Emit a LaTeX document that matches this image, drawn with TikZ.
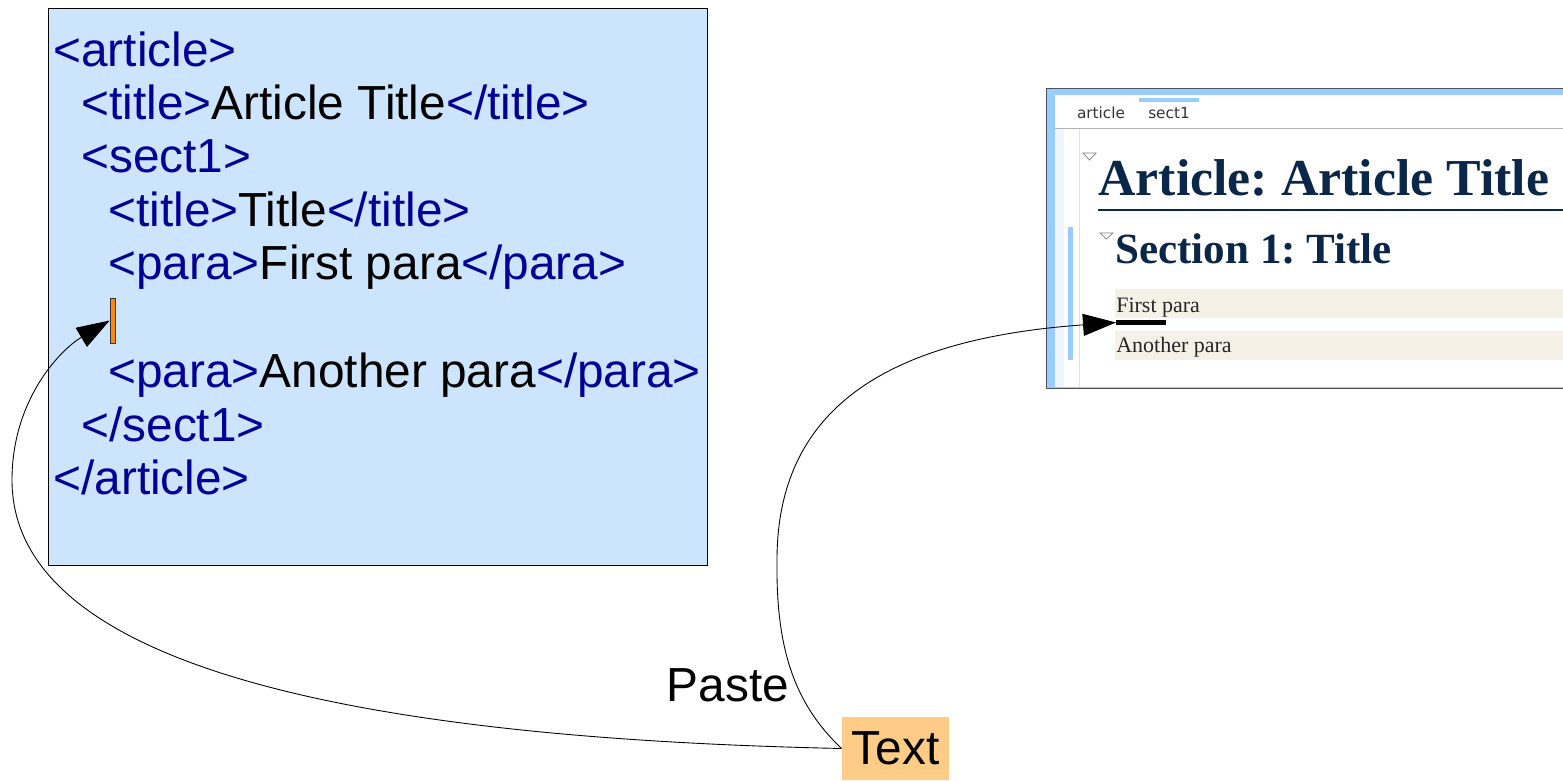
\documentclass[tikz,border=0pt]{standalone}
\usepackage{fontspec}
\setmainfont{Liberation Sans}
\newfontfamily\shotserif{Liberation Serif}
\newfontfamily\shotsans{DejaVu Sans}
\usepackage{tikz}
\usetikzlibrary{arrows,arrows.meta,shapes}
\frenchspacing
\definecolor{tagblue}{RGB}{0,0,150}
\definecolor{boxblue}{RGB}{204,228,252}
\definecolor{caretorange}{RGB}{255,140,0}
\definecolor{snipfill}{RGB}{255,204,136}
\definecolor{framegray}{RGB}{80,80,90}
\definecolor{frameblue}{RGB}{153,204,255}
\definecolor{paleblue}{RGB}{238,245,255}
\definecolor{headnavy}{RGB}{10,38,72}
\definecolor{parabeige}{RGB}{245,241,230}
\newcommand{\tg}[1]{\textcolor{tagblue}{#1}}
\tikzstyle{codeline}=[anchor=base west,inner sep=0pt,font=\fontsize{27.2}{30}\selectfont]
\tikzstyle{caret}=[draw=black!80,fill=caretorange,line width=0.4pt,minimum width=0.1cm,minimum height=0.9cm,inner sep=0pt]
\tikzstyle{snippet}=[fill=snipfill,minimum width=2.14cm,minimum height=1.26cm,inner sep=0pt,font=\fontsize{27.2}{30}\selectfont]
\tikzstyle{pastearrow}=[draw,line width=0.5pt,-{Triangle[length=0.66cm,width=0.44cm]}]
\tikzstyle{tab}=[anchor=base,inner sep=0pt,font=\shotsans\fontsize{8.7}{10}\selectfont,text=black!80]
\tikzstyle{heading}=[anchor=base west,inner sep=0pt,text=headnavy]
\tikzstyle{para}=[anchor=base west,inner sep=0pt,font=\shotserif\fontsize{12.5}{14}\selectfont,text=black!85]
\tikzstyle{fold}=[draw=gray,line width=0.4pt]

\begin{document}
\begin{tikzpicture}[x=0.02cm,y=-0.02cm]

    \useasboundingbox (0,0) rectangle (1563,781);

    % xml source
    \node[draw=black,fill=boxblue,line width=0.5pt,anchor=north west,minimum width=13.18cm,minimum height=11.14cm,inner sep=0pt] (xmlbox) at (48,8) {};

    \foreach \x/\y/\name/\txt in {53/66/tagarticle/{\tg{<article>}},
                                  81/119/tagtitle/{\tg{<title>}Article Title\tg{</title>}},
                                  81/172/tagsect/{\tg{<sect1>}},
                                  108/226/tagsubtitle/{\tg{<title>}Title\tg{</title>}},
                                  108/279/tagfirst/{\tg{<para>}First para\tg{</para>}},
                                  108/387/taganother/{\tg{<para>}Another para\tg{</para>}},
                                  81/441/tagendsect/{\tg{</sect1>}},
                                  53/494/tagendarticle/{\tg{</article>}}}
        \node[codeline] (\name) at (\x,\y) {\txt};

    \node[caret] (caret) at (112.5,320.5) {};

    % editor screenshot
    \fill[framegray] (1046,88) rectangle (1563,389);
    \fill[frameblue] (1047,89) rectangle (1563,388);
    \fill[white] (1055,95) rectangle (1563,387);
    \draw[gray!60] (1055,128.5) -- (1563,128.5);
    \fill[paleblue] (1055,129) rectangle (1064,387);
    \draw[black!12] (1079,129) -- (1079,387);
    \fill[frameblue] (1068,227) rectangle (1073,360);
    \fill[frameblue] (1139,98) rectangle (1199,102);

    \foreach \x/\name/\txt in {1101/tabarticle/article, 1169/tabsect/sect1}
        \node[tab] (\name) at (\x,118) {\txt};

    \draw[fold] (1083,153) -- (1096,153) -- (1089.5,160) -- cycle;
    \draw[fold] (1100,233) -- (1113,233) -- (1106.5,239) -- cycle;

    \node[heading,font=\shotserif\bfseries\fontsize{29.5}{32}\selectfont] (arthead) at (1098,195) {Article: Article Title};
    \draw[headnavy,line width=0.8pt] (1098,210) -- (1563,210);
    \node[heading,font=\shotserif\bfseries\fontsize{24.5}{27}\selectfont] (secthead) at (1115,263) {Section 1: Title};

    \fill[parabeige] (1115,289) rectangle (1563,318);
    \fill[parabeige] (1115,331) rectangle (1563,360);
    \node[para] (firstpara) at (1116,312) {First para};
    \node[para] (anotherpara) at (1116,352) {Another para};
    \node[fill=black,minimum width=1cm,minimum height=0.1cm,inner sep=0pt,anchor=west] (dropbar) at (1116,322.5) {};

    % clipboard text and paste arrows
    \node[snippet] (snippet) at (895.5,748.5) {Text};
    \node[inner sep=0pt,font=\fontsize{27.2}{30}\selectfont] (pastelabel) at (728,685) {Paste};

    \draw[pastearrow] (snippet.west) .. controls (450,740) and (12,690) .. (12,480)
                                     .. controls (12,400) and (60,350) .. (caret.west);
    \draw[pastearrow] (snippet.west) .. controls (790,700) and (776,640) .. (777,560)
                                     .. controls (777,400) and (900,338) .. (dropbar.west);

\end{tikzpicture}
\end{document}
